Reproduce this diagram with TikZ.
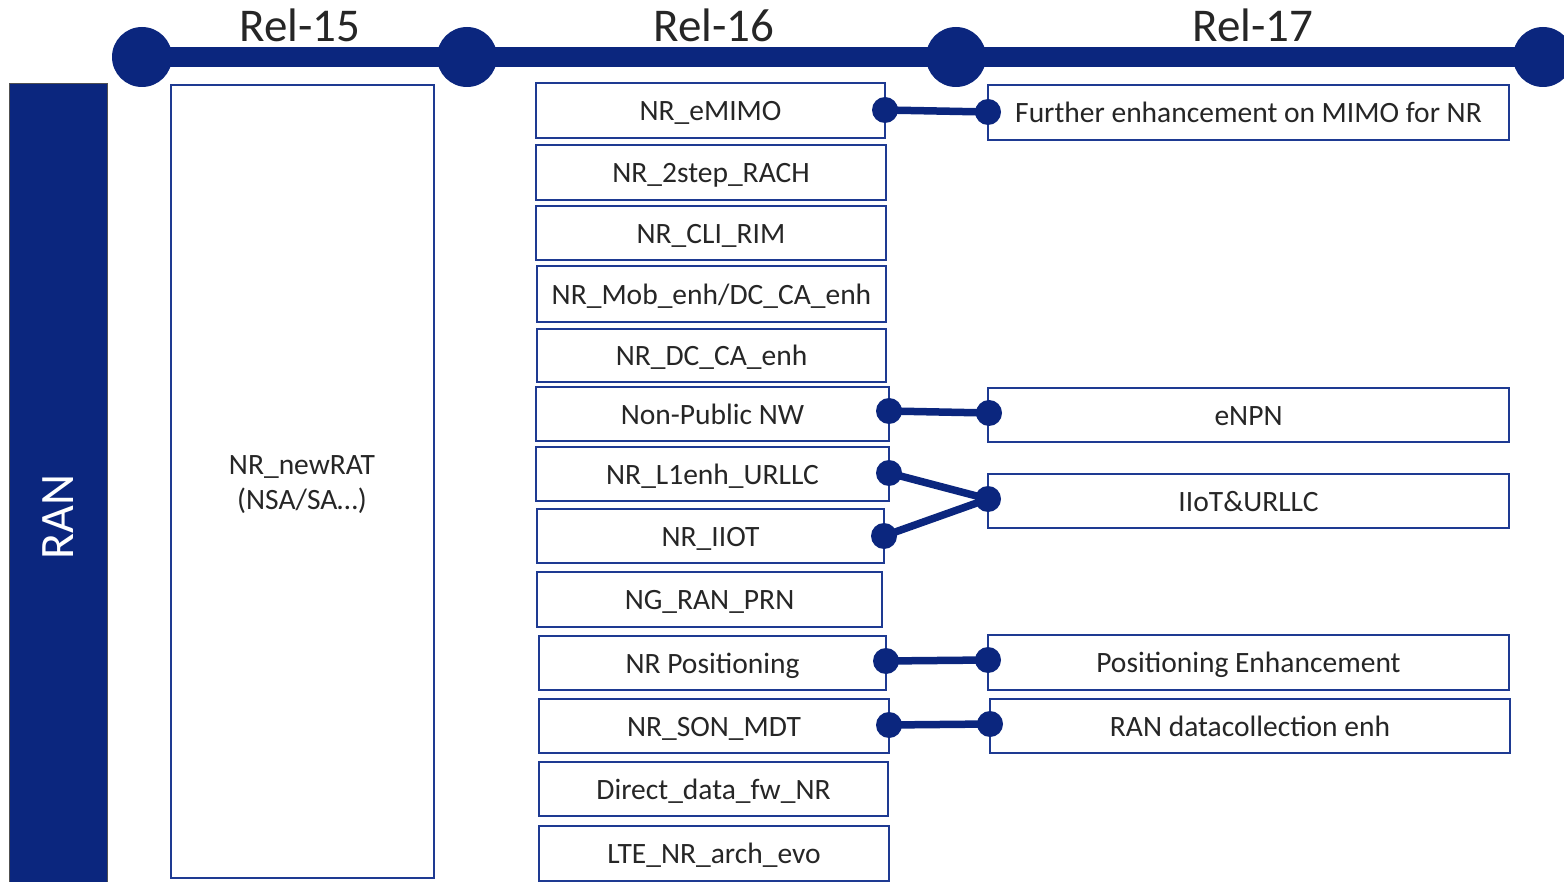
\documentclass[tikz,border=0pt]{standalone}
\usepackage{fontspec}
\setmainfont{Carlito}
\definecolor{navy}{RGB}{11,38,126}
\definecolor{boxline}{RGB}{30,58,146}
\definecolor{ink}{RGB}{38,38,38}
\tikzset{
  rbox/.style={draw=boxline, line width=1.6pt, fill=white, rectangle, inner sep=0pt, outer sep=0pt,
    minimum height=55pt, text=ink, font=\fontsize{29.5}{34}\selectfont,
    text height=22pt, text depth=1.5pt},
  link/.style={draw=navy, line width=7.5pt},
  reltitle/.style={anchor=base, text=ink, font=\fontsize{47}{54}\selectfont},
}
\begin{document}
\begin{tikzpicture}[x=1pt,y=-1pt]
\clip (0,0) rectangle (1564,882);
\useasboundingbox (0,0) rectangle (1564,882);

% release timeline
\coordinate (m15) at (142,57);
\coordinate (m16) at (467,57);
\coordinate (m17) at (956,57);
\coordinate (mend) at (1543,57);
\draw[navy, line width=20pt] (m15) -- (1570,57);
\foreach \m in {m15,m16,m17,mend} {\fill[navy] (\m) circle (30pt);}
\node[reltitle] (t15) at (300,42) {Rel-15};
\node[reltitle] (t16) at (714,42) {Rel-16};
\node[reltitle] (t17) at (1253,42) {Rel-17};

% RAN bar
\node[draw=ink!80, line width=1pt, fill=navy, minimum width=98pt, minimum height=820pt, inner sep=0pt] (ran) at (58,494) {};
\node[rotate=90, text=white, font=\fontsize{48}{54}\selectfont] (ranlbl) at (58,517) {RAN};

% Rel-15
\node[rbox, minimum width=263pt, minimum height=793pt, align=center] (newrat) at (302.5,481.5) {};
\node[text=ink, font=\fontsize{29.5}{35}\selectfont, align=center] (newratlbl) at (302,485) {NR\_newRAT\\(NSA/SA…)};

% Rel-16 items
\node[rbox, minimum width=349pt] (emimo) at (710.5,110.5) {NR\_eMIMO};
\node[rbox, minimum width=350pt] (rach) at (711,172.5) {NR\_2step\_RACH};
\node[rbox, minimum width=350pt, minimum height=54pt] (cli) at (711,233) {NR\_CLI\_RIM};
\node[rbox, minimum width=349pt, minimum height=56pt] (mob) at (711.5,294) {NR\_Mob\_enh/DC\_CA\_enh};
\node[rbox, minimum width=349pt, minimum height=53pt] (dcca) at (711.5,355.5) {NR\_DC\_CA\_enh};
\node[rbox, minimum width=353pt, minimum height=54pt] (npn) at (712.5,414) {Non-Public NW};
\node[rbox, minimum width=353pt, minimum height=54pt] (urllc) at (712.5,474) {NR\_L1enh\_URLLC};
\node[rbox, minimum width=347pt, minimum height=54pt] (iiot) at (710.5,536) {NR\_IIOT};
\node[rbox, minimum width=345pt] (prn) at (709.5,599.5) {NG\_RAN\_PRN};
\node[rbox, minimum width=347pt, minimum height=54pt] (pos) at (712.5,663) {NR Positioning};
\node[rbox, minimum width=350pt, minimum height=54pt] (son) at (714,726) {NR\_SON\_MDT};
\node[rbox, minimum width=349pt, minimum height=54pt] (ddfw) at (713.5,789) {Direct\_data\_fw\_NR};
\node[rbox, minimum width=350pt] (arch) at (714,853.5) {LTE\_NR\_arch\_evo};

% Rel-17 items
\node[rbox, minimum width=521pt] (femimo) at (1248.5,112.5) {Further enhancement on MIMO for NR};
\node[rbox, minimum width=521pt, minimum height=54pt] (enpn) at (1248.5,415) {eNPN};
\node[rbox, minimum width=521pt, minimum height=54pt] (iiurllc) at (1248.5,501) {IIoT\&URLLC};
\node[rbox, minimum width=521pt] (posenh) at (1248.5,662.5) {Positioning Enhancement};
\node[rbox, minimum width=520pt, minimum height=54pt] (radc) at (1250,726) {RAN datacollection enh};

% continuation links Rel-16 -> Rel-17
\coordinate (a1) at (885,110);  \coordinate (b1) at (988,112);
\coordinate (a2) at (889,411);  \coordinate (b2) at (989,413);
\coordinate (a3) at (889,473);  \coordinate (a4) at (884,536);  \coordinate (b3) at (988,499);
\coordinate (a5) at (886,661);  \coordinate (b5) at (988,660);
\coordinate (a6) at (889,725);  \coordinate (b6) at (990,724);
\draw[link] (a1) -- (b1);
\draw[link] (a2) -- (b2);
\draw[link] (a3) -- (b3);
\draw[link] (a4) -- (b3);
\draw[link] (a5) -- (b5);
\draw[link] (a6) -- (b6);
\foreach \p in {a1,b1,a2,b2,a3,a4,b3,a5,b5,a6,b6} {\fill[navy] (\p) circle (13pt);}
\end{tikzpicture}
\end{document}
